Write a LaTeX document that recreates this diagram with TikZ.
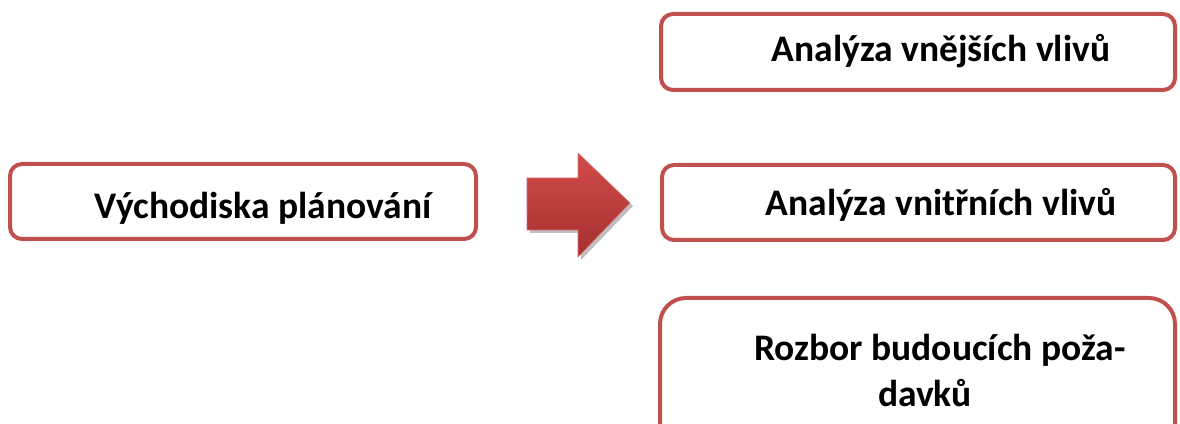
\documentclass[tikz,border=0pt]{standalone}
\usepackage{fontspec}
\setmainfont{Carlito}
\usetikzlibrary{shadows}
\definecolor{boxred}{HTML}{C0504D}
\definecolor{arrtop}{HTML}{D24B4B}
\definecolor{arrbot}{HTML}{A52F2F}
\tikzset{
  rbox/.style={draw=boxred, line width=4pt, rounded corners=12pt, fill=white},
  rboxbig/.style={draw=boxred, line width=4pt, rounded corners=26pt, fill=white},
  lbl/.style={font=\fontsize{37.5}{43}\selectfont\bfseries, text=black, inner sep=0pt, align=center},
}
\begin{document}
\begin{tikzpicture}[x=1pt,y=1pt]
\useasboundingbox (0,0) rectangle (1180,423);
% boxes
\draw[rbox] (10,259) rectangle (476,184);
\draw[rbox] (661,409) rectangle (1175,333);
\draw[rbox] (662,258) rectangle (1175,183);
\draw[rboxbig] (660,125) rectangle (1175,-40);
% labels
\node[lbl] (src) at (263,215) {Východiska plánování};
\node[lbl] (t1) at (941,372) {Analýza vnějších vlivů};
\node[lbl] (t2) at (941,218) {Analýza vnitřních vlivů};
\node[lbl] (t3a) at (940,73) {Rozbor budoucích poža-};
\node[lbl] (t3b) at (925,30) {davků};
% arrow
\path[fill=black, opacity=0.25] (530,242) -- (581,242) -- (581,267) -- (633,217) -- (581,163) -- (581,190) -- (530,190) -- cycle;
\shade[top color=arrtop, bottom color=arrbot, draw=arrtop!80!white, line width=0.6pt]
  (527,245) -- (578,245) -- (578,270) -- (630,220) -- (578,166) -- (578,193) -- (527,193) -- cycle;
\end{tikzpicture}
\end{document}
